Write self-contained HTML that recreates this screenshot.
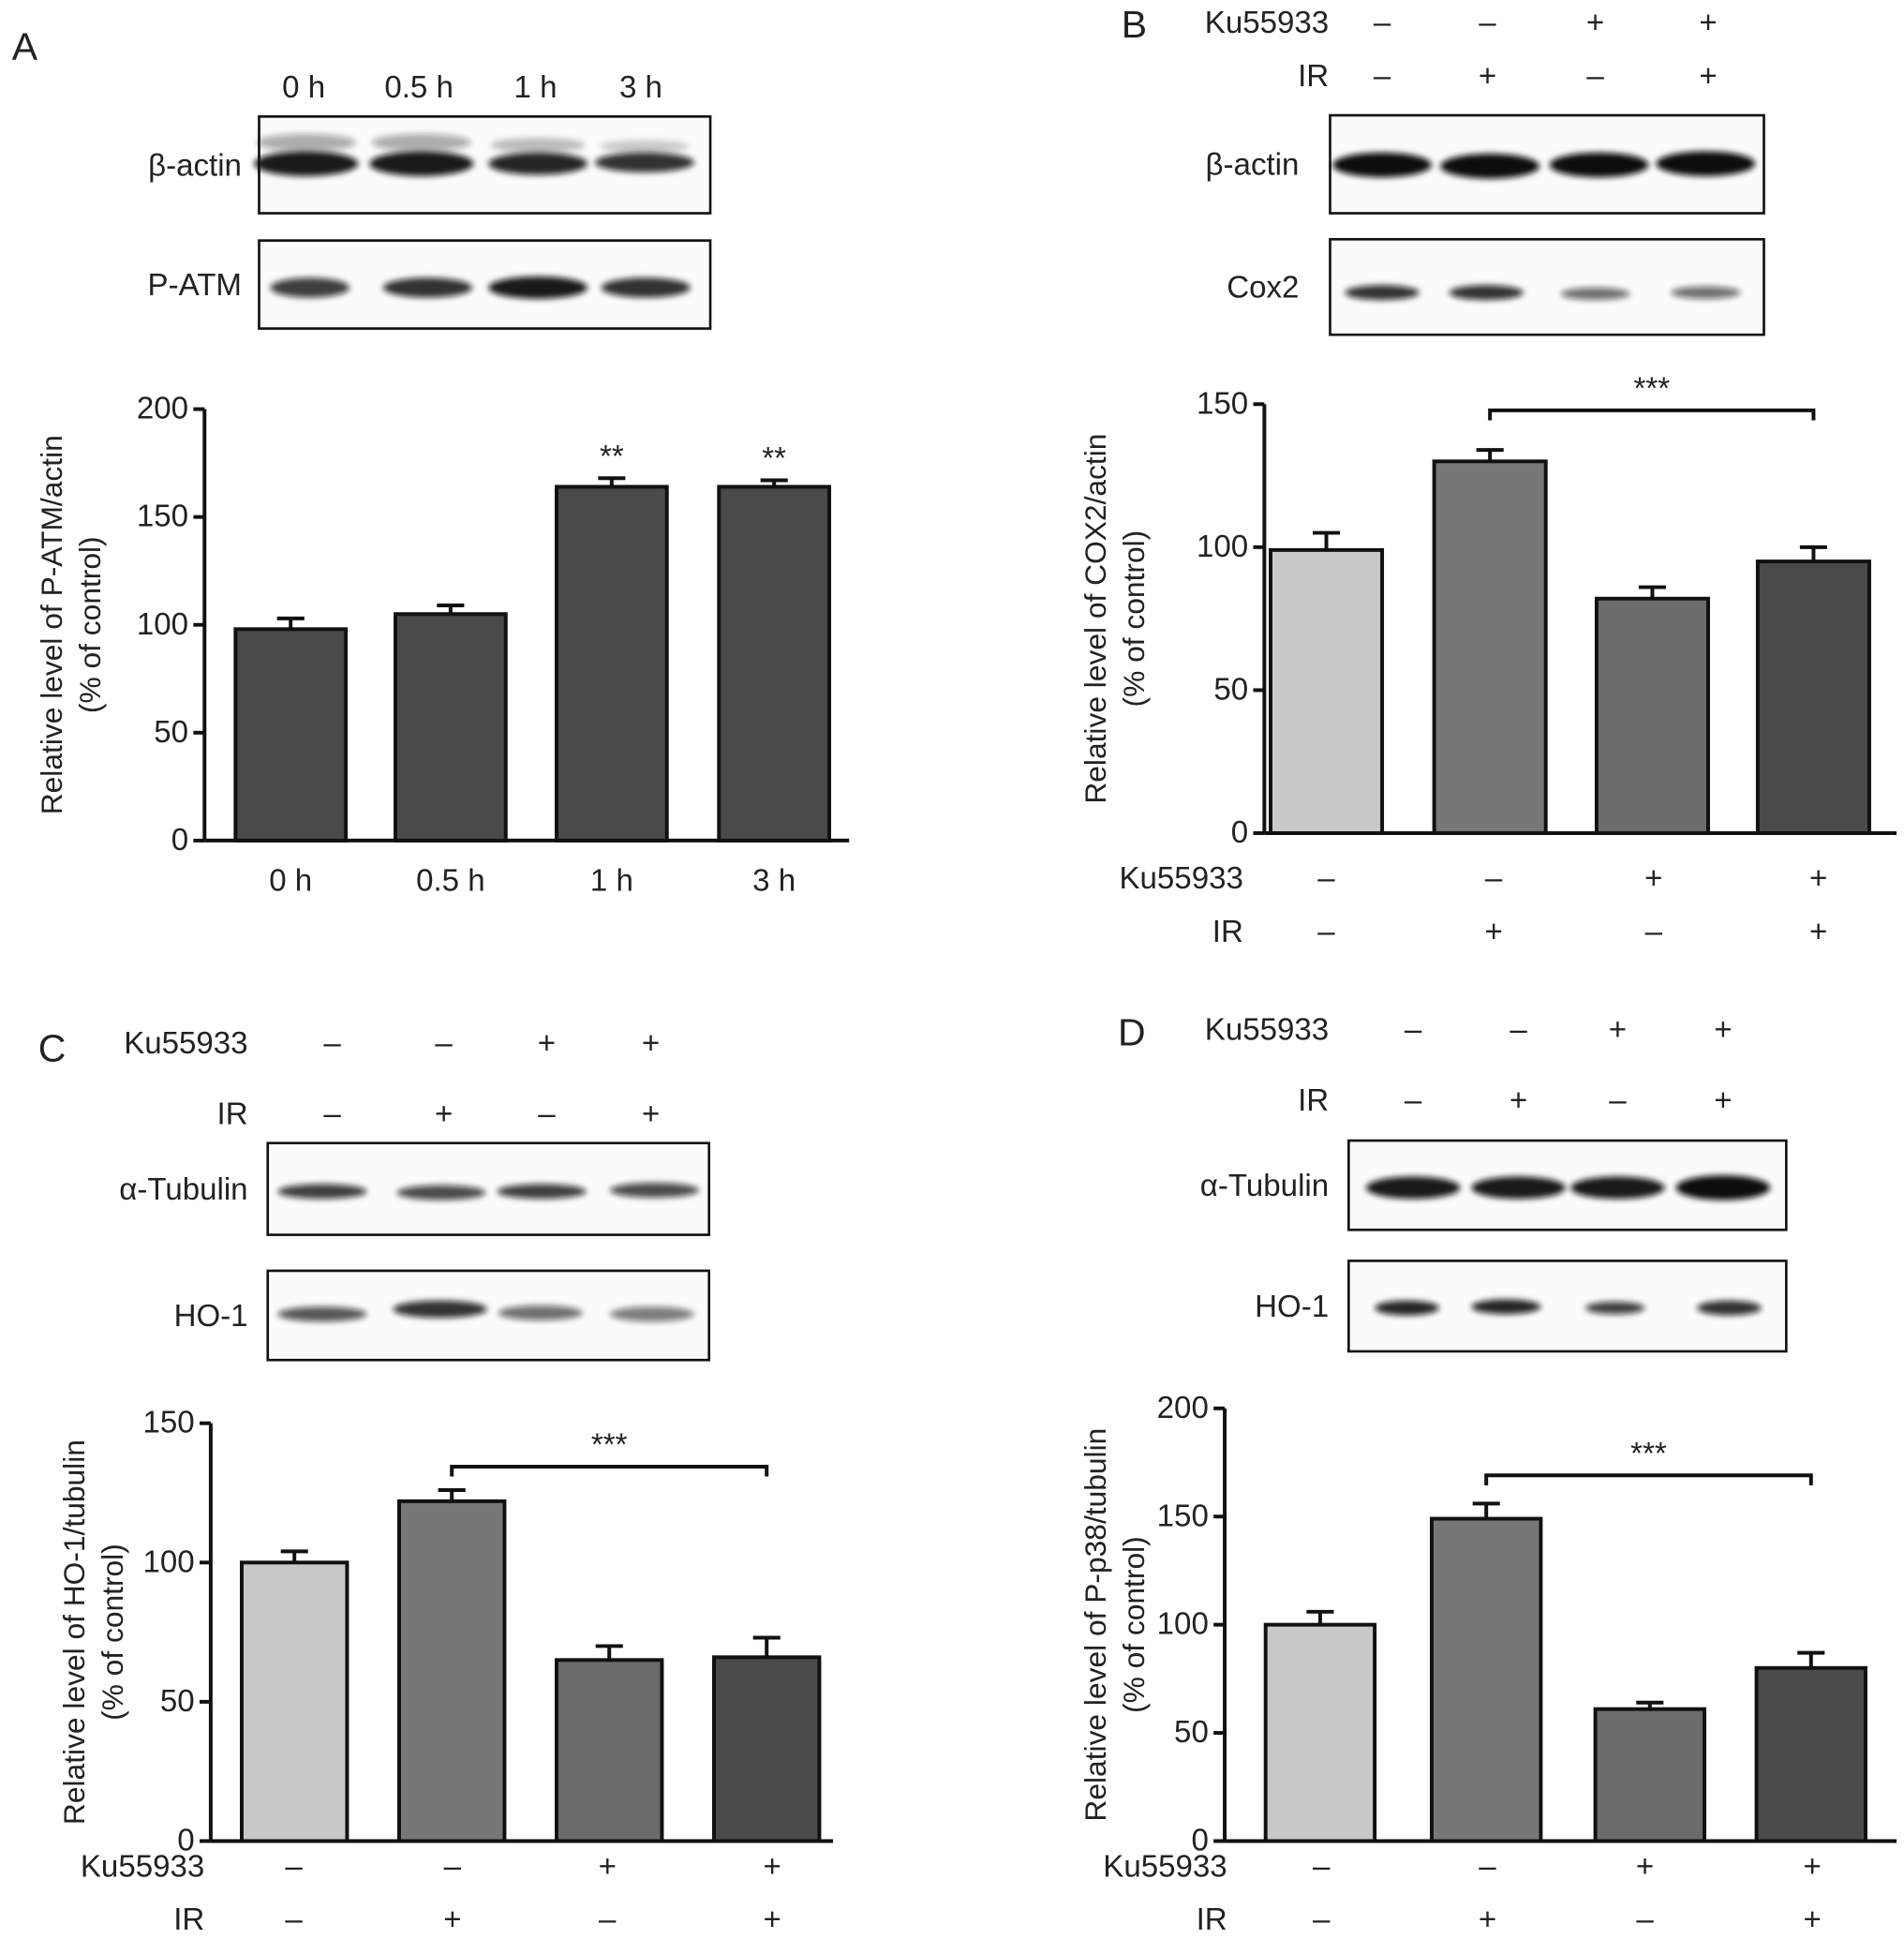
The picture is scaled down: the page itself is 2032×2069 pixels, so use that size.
<!DOCTYPE html>
<html><head><meta charset="utf-8"><style>
html,body{margin:0;padding:0;background:#fff}
svg{display:block}
text{font-family:"Liberation Sans",Arial,sans-serif;fill:#222}
</style></head><body>
<svg id="fig" width="2032" height="2069" viewBox="0 0 1536 1564" preserveAspectRatio="none" xmlns="http://www.w3.org/2000/svg">
<defs><filter id="blur" x="-20%" y="-50%" width="140%" height="200%"><feGaussianBlur stdDeviation="2.5"/></filter></defs>
<g id="root"></g>
</svg>
<script>
// ---- Chart data ----
const catsA = ["0 h","0.5 h","1 h","3 h"];
const valsA = [98,105,164,164];
const errsA = [5,4,4,3];
const starsA = ["","","**","**"];
const ticksA = [0,50,100,150,200];

const valsB = [99,130,82,95];
const errsB = [6,4,4,5];
const ticksB = [0,50,100,150];

const valsC = [100,122,65,66];
const errsC = [4,4,5,7];
const ticksC = [0,50,100,150];

const valsD = [100,149,61,80];
const errsD = [6,7,3,7];
const ticksD = [0,50,100,150,200];

const kuSigns = ["–","–","+","+"];
const irSigns = ["–","+","–","+"];

const FS=25;
const NS="http://www.w3.org/2000/svg";
const root=document.getElementById('root');
function el(tag,attrs,parent,txt){const e=document.createElementNS(NS,tag);for(const k in attrs)e.setAttribute(k,attrs[k]);if(txt!==undefined)e.textContent=txt;(parent||root).appendChild(e);return e;}
function txt(x,y,s,size,anchor,parent){const t=el('text',{x:x,y:y,'font-size':size||FS,'text-anchor':anchor||'middle','dominant-baseline':'middle'},parent,s);return t;}

function chart(o){
  const g=el('g',{});
  
  
  const ys=v=>o.y0-(v/o.max)*(o.y0-o.y1);
  el('line',{x1:o.ax,y1:o.y1,x2:o.ax,y2:o.y0,stroke:'#111','stroke-width':3},g);
  el('line',{x1:o.ax,y1:o.y0,x2:o.axEnd,y2:o.y0,stroke:'#111','stroke-width':3},g);
  o.ticks.forEach(t=>{
    const y=ys(t);
    const tk=el('line',{x1:o.ax-9,y1:y,x2:o.ax,y2:y,stroke:'#111','stroke-width':3},g);
    
    
    const tl=txt(o.ax-13,y+1,String(t),FS,'end',g);
    
    
  });
  o.vals.forEach((v,i)=>{
    const x0=o.bx[i], w=o.bw, cx=x0+w/2;
    const top=ys(v), et=ys(v+o.errs[i]);
    const b=el('rect',{x:x0,y:top,width:w,height:o.y0-top,fill:o.colors[i],stroke:'#111','stroke-width':3},g);
    
    
    const e=el('path',{d:`M${cx} ${top}V${et}M${cx-11} ${et}H${cx+11}`,stroke:'#111','stroke-width':3,fill:'none'},g);
    
    
    if(o.stars&&o.stars[i]){const s=txt(cx,et-16,o.stars[i],FS,'middle',g);}
    if(o.cats){const c=txt(cx,o.y0+34,o.cats[i],FS,'middle',g);}
  });
  if(o.bracket){
    const [i1,i2,by]=o.bracket;const x1=o.bx[i1]+o.bw/2,x2=o.bx[i2]+o.bw/2;
    const br=el('path',{d:`M${x1} ${by+8}V${by}H${x2}V${by+8}`,stroke:'#111','stroke-width':3,fill:'none'},g);
    
    
    const s=txt((x1+x2)/2,by-16,'***',FS,'middle',g);
    
    
  }
  const yt=el('text',{transform:`translate(${o.tx},${(o.y0+o.y1)/2}) rotate(-90)`,'font-size':24,'text-anchor':'middle'},g);
  
  
  el('tspan',{x:0,y:0},yt,o.title);
  el('tspan',{x:0,dy:31},yt,'(% of control)');
}

function blotBox(x,y,w,h,label,lx,bands,name){
  const g=el('g',{});
  
  
  el('rect',{x:x,y:y,width:w,height:h,fill:'#fbfbfb',stroke:'#111','stroke-width':2},g);
  bands.forEach(b=>{el('ellipse',{cx:b[0],cy:b[1],rx:b[2],ry:b[3],fill:'#111','fill-opacity':b[4],filter:'url(#blur)'},g);});
  const l=txt(lx,y+h/2+2,label,FS,'end',g);
  
  
}
function signRow(label,lx,y,xs,signs,name){
  const g=el('g',{});
  
  
  txt(lx,y,label,FS,'end',g);
  xs.forEach((x,i)=>txt(x,y,signs[i],FS,'middle',g));
}
function letter(s,x,y){const t=txt(x,y,s,31,'middle');}

const L='#c8c8c8',M='#777777',M2='#6c6c6c',D='#4a4a4a';

// Panel A
letter('A',20,40);
[245,338,432,517].forEach((x,i)=>{const t=txt(x,72,catsA[i],FS);});
blotBox(209,94,364,78,'β-actin',195,[[247,132,42,10,.95],[340,132,42,10,.95],[434,132,40,9,.9],[520,131,40,8,.85],[247,115,40,7,.35],[340,115,40,7,.35],[434,117,38,6,.25],[520,118,36,5,.2]],'blot-beta-actin-a');
blotBox(209,194,364,71,'P-ATM',195,[[250,232,32,8,.8],[345,232,36,8,.85],[434,232,40,9,.95],[521,232,36,8,.85]],'blot-patm');
chart({name:'chart-a',ax:165,axEnd:685,y0:678,y1:330,max:200,ticks:ticksA,vals:valsA,errs:errsA,bx:[190,319,449,580],bw:89,colors:[D,D,D,D],stars:starsA,cats:catsA,tx:50,title:'Relative level of P-ATM/actin'});

// Panel B
letter('B',915,22);
signRow('Ku55933',1072,20,[1115,1200,1287,1378],kuSigns,'ku55933-row-top-b');
signRow('IR',1072,63,[1115,1200,1287,1378],irSigns,'ir-row-top-b');
blotBox(1073,93,350,79,'β-actin',1048,[[1115,133,40,10,1],[1202,134,40,10,1],[1290,133,40,10,1],[1376,132,40,10,1]],'blot-beta-actin-b');
blotBox(1073,193,350,77,'Cox2',1048,[[1115,236,30,6,.85],[1199,236,30,6,.85],[1287,237,28,5,.6],[1376,236,28,5,.6]],'blot-cox2');
chart({name:'chart-b',ax:1020,axEnd:1530,y0:672,y1:326,max:150,ticks:ticksB,vals:valsB,errs:errsB,bx:[1025,1157,1288,1418],bw:90,colors:[L,M,M2,D],bracket:[1,3,331],tx:892,title:'Relative level of COX2/actin'});
signRow('Ku55933',1003,710,[1070,1205,1334,1467],kuSigns,'ku55933-row-bottom-b');
signRow('IR',1003,753,[1070,1205,1334,1467],irSigns,'ir-row-bottom-b');

// Panel C
letter('C',42,848);
signRow('Ku55933',200,843,[268,358,441,525],kuSigns,'ku55933-row-top-c');
signRow('IR',200,900,[268,358,441,525],irSigns,'ir-row-top-c');
blotBox(216,922,356,74,'α-Tubulin',200,[[260,961,36,6,.8],[356,962,36,6,.75],[437,961,36,6,.8],[528,960,36,6,.75]],'blot-tubulin-c');
blotBox(216,1025,356,72,'HO-1',200,[[260,1060,36,6,.7],[355,1056,38,7,.85],[436,1059,34,6,.6],[526,1060,34,6,.55]],'blot-ho1-c');
chart({name:'chart-c',ax:170,axEnd:672,y0:1485,y1:1148,max:150,ticks:ticksC,vals:valsC,errs:errsC,bx:[195,322,449,576],bw:85,colors:[L,M,M2,D],bracket:[1,3,1183],tx:68,title:'Relative level of HO-1/tubulin'});
signRow('Ku55933',165,1507,[237,365,490,623],kuSigns,'ku55933-row-bottom-c');
signRow('IR',165,1550,[237,365,490,623],irSigns,'ir-row-bottom-c');

// Panel D
letter('D',913,835);
signRow('Ku55933',1072,832,[1140,1225,1305,1390],kuSigns,'ku55933-row-top-d');
signRow('IR',1072,889,[1140,1225,1305,1390],irSigns,'ir-row-top-d');
blotBox(1088,920,353,72,'α-Tubulin',1072,[[1140,958,38,9,.95],[1225,958,38,9,.95],[1305,958,38,9,.95],[1390,958,38,10,1]],'blot-tubulin-d');
blotBox(1088,1017,353,73,'HO-1',1072,[[1135,1055,26,6,.9],[1215,1054,28,6,.9],[1303,1055,24,5,.8],[1395,1055,26,6,.85]],'blot-ho1-d');
chart({name:'chart-d',ax:988,axEnd:1530,y0:1485,y1:1136,max:200,ticks:ticksD,vals:valsD,errs:errsD,bx:[1021,1155,1287,1417],bw:88,colors:[L,M,M2,D],bracket:[1,3,1190],tx:892,title:'Relative level of P-p38/tubulin'});
signRow('Ku55933',990,1507,[1066,1200,1327,1462],kuSigns,'ku55933-row-bottom-d');
signRow('IR',990,1550,[1066,1200,1327,1462],irSigns,'ir-row-bottom-d');
</script>
</body></html>
